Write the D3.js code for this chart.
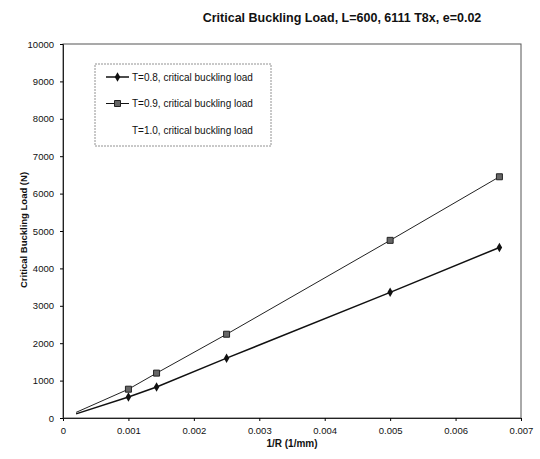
<!DOCTYPE html>
<html lang="en">
<head>
<meta charset="UTF-8">
<title>Critical Buckling Load</title>
<style>
    body { margin: 0; background: #fff; }
    svg { font-family: "Liberation Sans", Arial, sans-serif; }
    .tick text { font-size: 9.5px; fill: #111; }
</style>
</head>
<body>
<svg id="chart"></svg>
<script src="https://cdn.jsdelivr.net/npm/d3@7"></script>
<script>
    // data
    let invR = [0.0002, 0.001, 0.00143, 0.0025, 0.005, 0.00667]
    let loadT08 = [110, 560, 830, 1600, 3360, 4560]
    let loadT09 = [150, 770, 1200, 2240, 4750, 6450]
    let seriesNames = ["T=0.8, critical buckling load", "T=0.9, critical buckling load", "T=1.0, critical buckling load"]
    let xTicks = [0, 0.001, 0.002, 0.003, 0.004, 0.005, 0.006, 0.007]
    let yTicks = [0, 1000, 2000, 3000, 4000, 5000, 6000, 7000, 8000, 9000, 10000]

    let width = 540, height = 459
    let margin = { left: 63, right: 19, top: 44, bottom: 41 }

    let svg = d3.select("#chart").attr("width", width).attr("height", height)

    let xScale = d3.scaleLinear().domain([0, 0.007]).range([margin.left, width - margin.right])
    let yScale = d3.scaleLinear().domain([0, 10000]).range([height - margin.bottom, margin.top])

    // plot border
    svg.append("rect")
        .attr("x", xScale(0)).attr("y", yScale(10000))
        .attr("width", xScale(0.007) - xScale(0))
        .attr("height", yScale(0) - yScale(10000))
        .attr("fill", "none").attr("stroke", "#555").attr("stroke-width", 1)

    svg.append("g")
        .attr("transform", `translate(0,${yScale(0)})`)
        .call(d3.axisBottom(xScale).tickValues(xTicks).tickSize(3).tickPadding(6)
            .tickFormat(d => d === 0 ? "0" : d3.format(".3f")(d)))
        .call(g => g.select(".domain").attr("stroke", "#222"))

    svg.append("g")
        .attr("transform", `translate(${xScale(0)},0)`)
        .call(d3.axisLeft(yScale).tickValues(yTicks).tickSize(3).tickPadding(6).tickFormat(d3.format("d")))
        .call(g => g.select(".domain").attr("stroke", "#222"))

    // titles
    svg.append("text").attr("x", 342).attr("y", 22).attr("text-anchor", "middle")
        .attr("font-size", 12.5).attr("font-weight", "bold").attr("fill", "#111")
        .text("Critical Buckling Load, L=600, 6111 T8x, e=0.02")
    svg.append("text").attr("x", (xScale(0) + xScale(0.007)) / 2).attr("y", 447).attr("text-anchor", "middle")
        .attr("font-size", 10).attr("font-weight", "bold").attr("fill", "#111")
        .text("1/R (1/mm)")
    svg.append("text").attr("transform", "translate(27,230) rotate(-90)").attr("text-anchor", "middle")
        .attr("font-size", 9.5).attr("font-weight", "bold").attr("fill", "#111")
        .text("Critical Buckling Load (N)")

    let line = d3.line().x(d => xScale(d[0])).y(d => yScale(d[1]))
    let d08 = invR.map((x, i) => [x, loadT08[i]])
    let d09 = invR.map((x, i) => [x, loadT09[i]])

    svg.append("path").datum(d09).attr("d", line)
        .attr("fill", "none").attr("stroke", "#222").attr("stroke-width", 1)
    svg.append("path").datum(d08).attr("d", line)
        .attr("fill", "none").attr("stroke", "#111").attr("stroke-width", 1.5)

    let diamond = d3.symbol().type(d3.symbolDiamond).size(26)
    let square = d3.symbol().type(d3.symbolSquare).size(36)

    svg.selectAll(".m08").data(d08.slice(1)).enter().append("path")
        .attr("transform", d => `translate(${xScale(d[0])},${yScale(d[1])})`)
        .attr("d", diamond).attr("fill", "#111")
    svg.selectAll(".m09").data(d09.slice(1)).enter().append("path")
        .attr("transform", d => `translate(${xScale(d[0])},${yScale(d[1])})`)
        .attr("d", square).attr("fill", "#666").attr("stroke", "#222").attr("stroke-width", 1)

    // legend
    let lg = svg.append("g").attr("transform", "translate(95,64)")
    lg.append("rect").attr("width", 176).attr("height", 82)
        .attr("fill", "#fff").attr("stroke", "#777").attr("stroke-width", 0.8).attr("stroke-dasharray", "2,1")
    seriesNames.forEach((name, i) => {
        let y = 13 + i * 26.5
        if (i < 2) {
            lg.append("line").attr("x1", 11).attr("x2", 34).attr("y1", y).attr("y2", y)
                .attr("stroke", "#111").attr("stroke-width", i === 0 ? 1.5 : 1)
            lg.append("path").attr("transform", `translate(22.5,${y})`)
                .attr("d", i === 0 ? diamond : square)
                .attr("fill", i === 0 ? "#111" : "#666").attr("stroke", i === 0 ? "none" : "#222")
        }
        lg.append("text").attr("x", 37).attr("y", y + 3.5).attr("font-size", 10).attr("fill", "#111").text(name)
    })
</script>
</body>
</html>
